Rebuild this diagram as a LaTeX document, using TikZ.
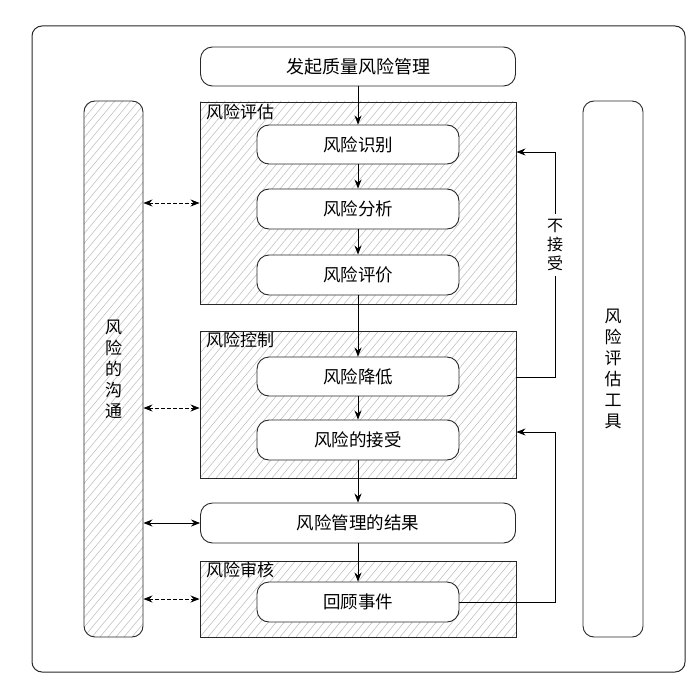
\documentclass[tikz,border=0pt]{standalone}
\usepackage{fontspec}
\setmainfont{Noto Sans CJK SC}
\usetikzlibrary{arrows.meta}
\definecolor{hatchc}{RGB}{190,190,190}
\definecolor{linec}{RGB}{40,40,40}
\tikzset{
  hatch/.style={path picture={
    \foreach \i in {0,...,120}
      \draw[hatchc, line width=0.55pt] ([xshift={\i*8-560}]path picture bounding box.south west) -- ++(600pt,720pt);
  }},
  stepbox/.style={draw=linec, line width=0.9pt, rounded corners=12pt, fill=white,
    font=\fontsize{17.5}{19}\selectfont, inner sep=0pt},
  groupbox/.style={draw=linec, line width=0.9pt, hatch, inner sep=0pt},
  grouplabel/.style={anchor=north west, font=\fontsize{17}{19}\selectfont, inner sep=1pt},
  colbox/.style={draw=linec, line width=0.9pt, rounded corners=11pt, inner sep=0pt,
    font=\fontsize{17}{21}\selectfont, align=center},
  arr/.style={draw=black, line width=0.9pt, -{Stealth[length=9pt,width=7pt]}},
  darr/.style={draw=black, line width=0.9pt, dash pattern=on 4pt off 2pt,
    {Stealth[length=9pt,width=7pt]}-{Stealth[length=9pt,width=7pt]}},
  sarr/.style={draw=black, line width=0.9pt,
    {Stealth[length=9pt,width=7pt]}-{Stealth[length=9pt,width=7pt]}},
  fbline/.style={draw=black, line width=0.9pt},
}
\begin{document}
\begin{tikzpicture}[x=1pt,y=-1pt]
\useasboundingbox (0,0) rectangle (700,687);
% outer frame
\node[draw=linec, line width=1pt, rounded corners=10pt, minimum width=653pt, minimum height=646pt, inner sep=0pt] (frame) at (358.5,349) {};
% side columns
\node[colbox, hatch, minimum width=59pt, minimum height=536pt] (comm) at (113.5,369) {风\\险\\的\\沟\\通};
\node[colbox, minimum width=60pt, minimum height=536pt] (tool) at (613,369) {风\\险\\评\\估\\工\\具};
% group boxes
\node[groupbox, minimum width=316pt, minimum height=202pt] (assess) at (358,203) {};
\node[grouplabel] (assessL) at (205,103) {风险评估};
\node[groupbox, minimum width=316pt, minimum height=147pt] (ctrl) at (358,404.5) {};
\node[grouplabel] (ctrlL) at (205,331) {风险控制};
\node[groupbox, minimum width=316pt, minimum height=76pt] (rev) at (358,599) {};
\node[grouplabel] (revL) at (205,561) {风险审核};
% steps
\node[stepbox, minimum width=315pt, minimum height=39pt, font=\fontsize{18}{20}\selectfont] (start) at (358,66.5) {发起质量风险管理};
\node[stepbox, minimum width=202pt, minimum height=39pt] (ident) at (358,144.5) {风险识别};
\node[stepbox, minimum width=202pt, minimum height=40pt] (anal) at (358,209) {风险分析};
\node[stepbox, minimum width=202pt, minimum height=40pt] (eval) at (358,275) {风险评价};
\node[stepbox, minimum width=202pt, minimum height=39pt] (reduce) at (358,376.5) {风险降低};
\node[stepbox, minimum width=202pt, minimum height=40pt] (accept) at (358,440) {风险的接受};
\node[stepbox, minimum width=315pt, minimum height=40pt] (result) at (358,523) {风险管理的结果};
\node[stepbox, minimum width=202pt, minimum height=40pt] (review) at (358,602) {回顾事件};
% main flow
\draw[arr] (start) -- (ident);
\draw[arr] (ident) -- (anal);
\draw[arr] (anal) -- (eval);
\draw[arr] (eval) -- (reduce);
\draw[arr] (reduce) -- (accept);
\draw[arr] (accept) -- (result);
\draw[arr] (result) -- (review);
% feedback loops
\coordinate (fbA) at (555,377);
\coordinate (fbB) at (555,152);
\coordinate (fbC) at (555,602);
\coordinate (fbD) at (555,432);
\draw[fbline] (ctrl.east |- fbA) -- (fbA) -- (fbB);
\draw[arr] (fbB) -- (assess.east |- fbB);
\node[fill=white, inner sep=0pt, align=center, font=\fontsize{16}{19}\selectfont, minimum height=62pt] (noacc) at (555,245) {不\\接\\受};
\draw[fbline] (review.east) -- (fbC) -- (fbD);
\draw[arr] (fbD) -- (ctrl.east |- fbD);
% communication links
\draw[darr] (comm.east |- assess.west) -- (assess.west);
\draw[darr] (comm.east |- 0,408) -- (ctrl.west |- 0,408);
\draw[sarr] (comm.east |- result.west) -- (result.west);
\draw[darr] (comm.east |- rev.west) -- (rev.west);
\end{tikzpicture}
\end{document}
